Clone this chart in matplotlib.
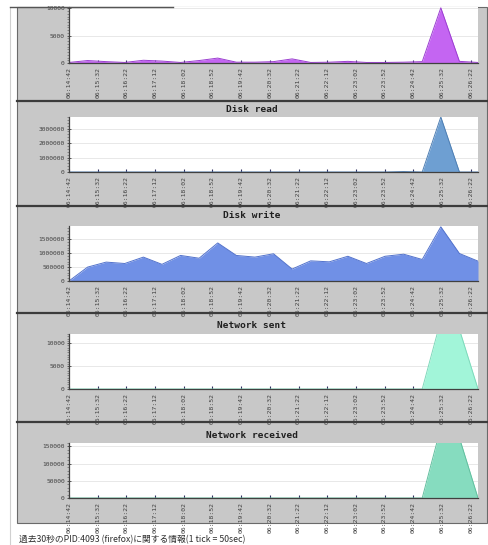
import numpy as np
import matplotlib
matplotlib.use('Agg')
import matplotlib.pyplot as plt
from matplotlib.patches import Rectangle
from matplotlib.lines import Line2D
from matplotlib.ticker import MultipleLocator, FixedLocator, FormatStrFormatter

W, H = 489, 545

# sample every ~32 sec, one tick = 50 sec
sample_sec = 32.4
tick_sec = 50
tick_labels = ['06:14:42', '06:15:32', '06:16:22', '06:17:12', '06:18:02',
               '06:18:52', '06:19:42', '06:20:32', '06:21:22', '06:22:12',
               '06:23:02', '06:23:52', '06:24:42', '06:25:32', '06:26:22']

titles = ['CPU', 'Disk read', 'Disk write', 'Network sent', 'Network received']

cpu = [100, 450, 250, 100, 500, 350, 100, 450, 900, 150, 150, 250,
       750, 100, 150, 300, 100, 100, 150, 250, 10100, 300, 100]
disk_read = [0, 0, 0, 0, 0, 0, 0, 0, 0, 0, 0, 0,
             0, 0, 0, 0, 0, 0, 30000, 0, 3800000, 0, 0]
disk_write = [0, 500000, 680000, 630000, 860000, 600000, 920000, 820000,
              1370000, 920000, 860000, 980000, 430000, 725000, 690000,
              890000, 630000, 890000, 965000, 775000, 1950000, 990000, 715000]
net_sent = [0, 0, 0, 0, 0, 0, 0, 0, 0, 0, 0, 0,
            0, 0, 0, 0, 0, 0, 0, 0, 15000, 13000, 0]
net_recv = [0, 0, 0, 0, 0, 0, 0, 0, 0, 0, 0, 0,
            0, 0, 0, 0, 0, 0, 0, 0, 205000, 175000, 0]

series = [cpu, disk_read, disk_write, net_sent, net_recv]
y_max = [10250, 3800000, 1980000, 12000, 160000]
y_major = [5000, 1000000, 500000, 5000, 50000]
y_minor = [500, 200000, 100000, 500, 10000]
fills = ['#c465f2', '#6e9fd2', '#7090e6', '#a2f5d9', '#86dcbf']
edges = ['#9b3fd0', '#4f7fb3', '#5272cc', '#7ed9bb', '#62bf9f']

# pixel layout: (frame_top, frame_bottom, plot_top, plot_bottom, title_y)
panels = [(7, 101, 7, 63, None),
          (101, 206, 117, 172, 110),
          (206, 313, 226, 281, 216),
          (313, 422, 334, 389, 326),
          (422, 523, 443, 498, 435)]
frame_x0, frame_x1 = 17, 487
plot_x0, plot_x1 = 69, 478


def fx(x):
    return x / W


def fy(y):
    return 1 - y / H


fig = plt.figure(figsize=(W / 100, H / 100), dpi=100)
fig.patch.set_facecolor('white')

# page lines on the left
fig.add_artist(Line2D([fx(10), fx(10)], [fy(7), fy(545)], color='#d0d0d0', lw=0.8))
fig.add_artist(Line2D([fx(10), fx(173)], [fy(7), fy(7)], color='#555555', lw=1.0))

# gray frame
fig.add_artist(Rectangle((fx(frame_x0), fy(523)), fx(frame_x1 - frame_x0), (523 - 7) / H,
                         facecolor='#c8c8c8', edgecolor='#6a6a6a', lw=0.8, zorder=0))

x = np.arange(len(cpu)) * sample_sec
ticks = np.arange(len(tick_labels)) * tick_sec

for i, (ft, fb, pt, pb, ty) in enumerate(panels):
    if i > 0:
        fig.add_artist(Line2D([fx(frame_x0), fx(frame_x1)], [fy(ft), fy(ft)],
                              color='#3c3c3c', lw=1.6))
    if ty is not None:
        fig.text(fx((frame_x0 + frame_x1) / 2), fy(ty), titles[i], ha='center', va='center',
                 family='DejaVu Sans Mono', fontweight='bold', fontsize=6.8, color='#202020')

    ax = fig.add_axes([fx(plot_x0), fy(pb), fx(plot_x1 - plot_x0), (pb - pt) / H])
    ax.set_facecolor('white')
    vals = np.array(series[i])
    ax.fill_between(x, vals, 0, color=fills[i], lw=0, zorder=2)
    ax.plot(x, vals, color=edges[i], lw=0.7, zorder=3)
    ax.set_xlim(0, x[-1])
    ax.set_ylim(0, y_max[i])

    ax.yaxis.set_major_locator(MultipleLocator(y_major[i]))
    ax.yaxis.set_minor_locator(MultipleLocator(y_minor[i]))
    ax.yaxis.set_major_formatter(FormatStrFormatter('%d'))
    ax.grid(axis='y', which='major', color='#e4e4e4', lw=0.6, zorder=1)
    ax.set_axisbelow(True)

    ax.xaxis.set_major_locator(FixedLocator(ticks))
    ax.set_xticklabels(tick_labels, rotation=90)

    for s in ['top', 'right']:
        ax.spines[s].set_visible(False)
    for s in ['left', 'bottom']:
        ax.spines[s].set_color('#404040')
        ax.spines[s].set_linewidth(0.9)
        ax.spines[s].set_zorder(5)

    ax.tick_params(axis='y', which='major', direction='inout', length=3, width=0.6,
                   labelsize=4.5, pad=1.5, colors='#404040')
    ax.tick_params(axis='y', which='minor', direction='out', length=1.5, width=0.4,
                   colors='#505050')
    ax.tick_params(axis='x', which='major', direction='in', length=2.5, width=0.8,
                   labelsize=4.6, pad=3, colors='#303060', labelcolor='#404040')
    for t in ax.get_xticklabels() + ax.get_yticklabels():
        t.set_family('DejaVu Sans Mono')

fig.text(fx(19), fy(540), '過去30秒のPID:4093 (firefox)に関する情報(1 tick = 50sec)',
         family=['Noto Sans CJK JP', 'DejaVu Sans'], fontsize=6.3, color='#303030',
         ha='left', va='center')

fig.savefig('out.png', dpi=100)
